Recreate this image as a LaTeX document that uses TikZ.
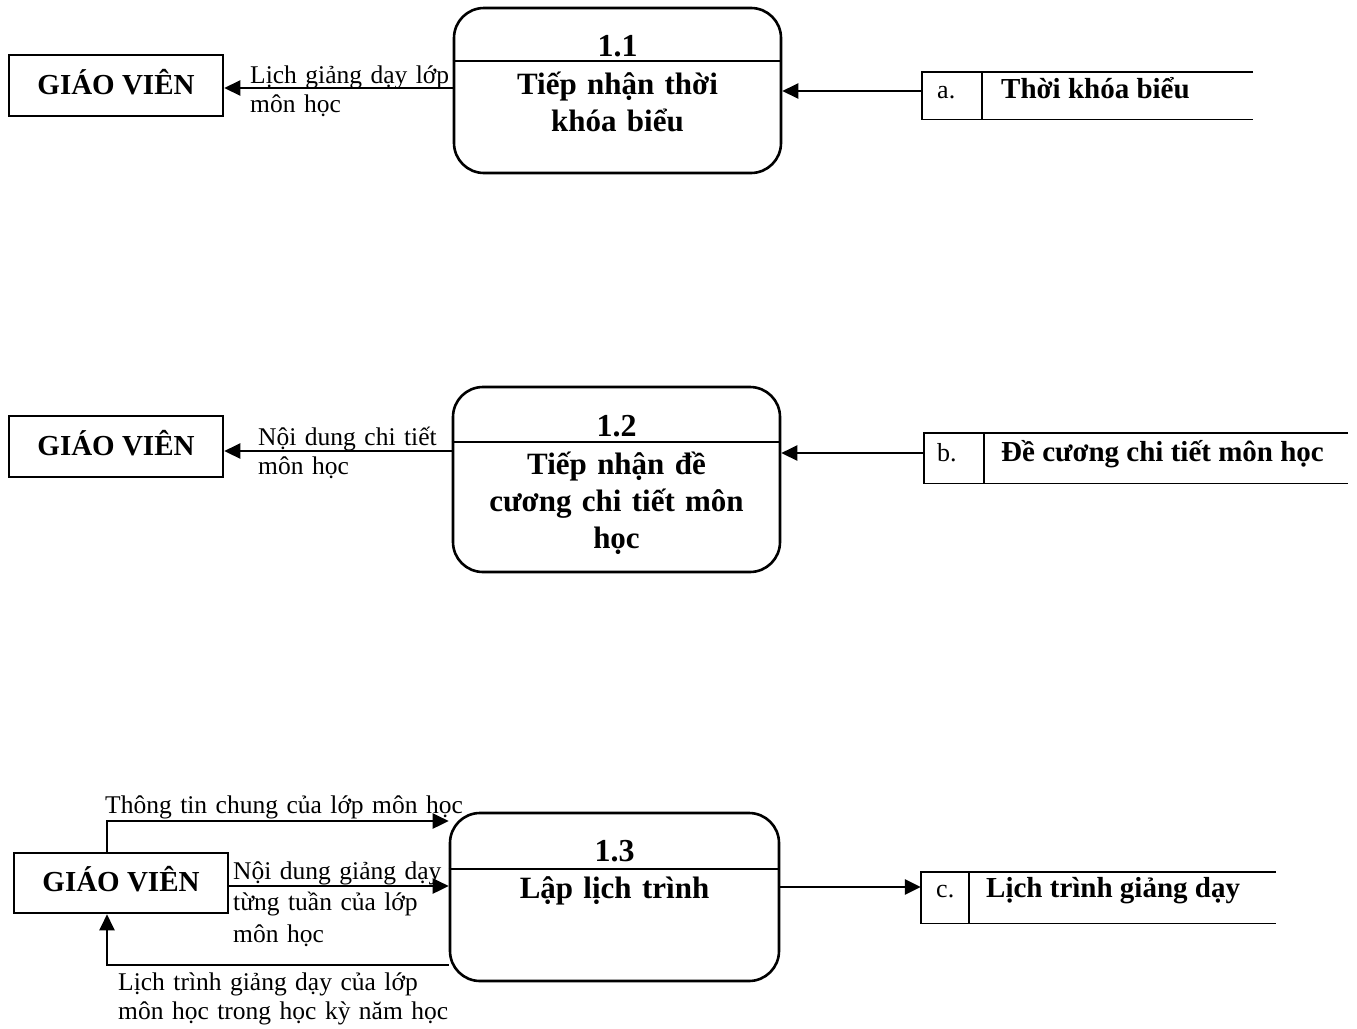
\documentclass[tikz,border=0pt]{standalone}
\usepackage{fontspec}
\setmainfont{Liberation Serif}
\usetikzlibrary{arrows.meta}

\begin{document}
\begin{tikzpicture}[x=1pt,y=-1pt,
  proc/.style={draw, line width=2.6pt, rounded corners=30pt, inner sep=0pt, minimum width=327pt},
  entity/.style={draw, line width=2.6pt, minimum width=214pt, minimum height=61pt, inner sep=0pt,
    text height=20pt, text depth=3pt, font=\fontsize{29}{35}\selectfont\bfseries},
  storebox/.style={inner sep=0pt},
  storeline/.style={line width=1.4pt},
  flow/.style={line width=2.6pt, -{Triangle[length=16pt,width=15pt]}},
  pnum/.style={font=\fontsize{32}{37}\selectfont\bfseries, anchor=base, inner sep=0pt},
  ptitle/.style={font=\fontsize{31}{37}\selectfont\bfseries, align=center, text width=320pt, anchor=base, inner sep=0pt},
  lbl/.style={font=\fontsize{25.5}{29}\selectfont, align=left, text width=420pt, anchor=base west, inner sep=0pt},
  skey/.style={font=\fontsize{26}{30}\selectfont, anchor=base west, inner sep=0pt},
  sname/.style={font=\fontsize{29}{35}\selectfont\bfseries, anchor=base west, inner sep=0pt},
]
\useasboundingbox (0,0) rectangle (1357,1028);

% ---------- process 1.1 ----------
\node[proc, minimum height=165pt] (p1) at (617.5,90.5) {};
\draw[line width=2pt] (p1.west |- 0,61) -- (p1.east |- 0,61);
\node[pnum] (p1n) at (617.5,56) {1.1};
\node[ptitle] (p1t) at (617.5,94) {Tiếp nhận thời\\khóa biểu};

\node[entity] (e1) at (116,85.5) {GIÁO VIÊN};

\node[storebox, minimum width=331pt, minimum height=47pt] (sa) at (1087.5,95.5) {};
\draw[storeline] (sa.north east) -- (sa.north west) -- (sa.south west) -- (sa.south east);
\draw[storeline] ([xshift=60pt]sa.north west) -- ([xshift=60pt]sa.south west);
\node[skey] (sak) at (937,98) {a.};
\node[sname] (san) at (1001,98) {Thời khóa biểu};

\draw[flow] (sa.west |- 0,91) -- (p1.east |- 0,91);
\draw[flow] (p1.west |- 0,88) -- (e1.east |- 0,88);
\node[lbl] (l1) at (250,83) {Lịch giảng dạy lớp\\môn học};

% ---------- process 1.2 ----------
\node[proc, minimum height=185pt] (p2) at (616.5,479.5) {};
\draw[line width=2pt] (p2.west |- 0,442) -- (p2.east |- 0,442);
\node[pnum] (p2n) at (616.5,436) {1.2};
\node[ptitle] (p2t) at (616.5,474) {Tiếp nhận đề\\cương chi tiết môn\\học};

\node[entity] (e2) at (116,446.5) {GIÁO VIÊN};

\node[storebox, minimum width=424pt, minimum height=50pt] (sb) at (1136,458) {};
\draw[storeline] (sb.north east) -- (sb.north west) -- (sb.south west) -- (sb.south east);
\draw[storeline] ([xshift=60pt]sb.north west) -- ([xshift=60pt]sb.south west);
\node[skey] (sbk) at (937,461) {b.};
\node[sname] (sbn) at (1001,461) {Đề cương chi tiết môn học};

\draw[flow] (sb.west |- 0,453) -- (p2.east |- 0,453);
\draw[flow] (p2.west |- 0,451) -- (e2.east |- 0,451);
\node[lbl] (l2) at (258,445) {Nội dung chi tiết\\môn học};

% ---------- process 1.3 ----------
\node[proc, minimum width=329pt, minimum height=168pt] (p3) at (614.5,897) {};
\draw[line width=2pt] (p3.west |- 0,869) -- (p3.east |- 0,869);
\node[pnum] (p3n) at (614.5,861) {1.3};
\node[ptitle] (p3t) at (614.5,898) {Lập lịch trình};

\node[entity, minimum height=60pt] (e3) at (121,883) {GIÁO VIÊN};

\node[storebox, minimum width=355pt, minimum height=51pt] (sc) at (1098.5,897.5) {};
\draw[storeline] (sc.north east) -- (sc.north west) -- (sc.south west) -- (sc.south east);
\draw[storeline] ([xshift=48pt]sc.north west) -- ([xshift=48pt]sc.south west);
\node[skey] (sck) at (936,897) {c.};
\node[sname] (scn) at (986,897) {Lịch trình giảng dạy};

\draw[flow] ([xshift=-14pt]e3.north) |- (p3.west |- 0,821);
\node[lbl] (l3) at (105,813) {Thông tin chung của lớp môn học};
\draw[flow] (e3.east |- 0,886) -- (p3.west |- 0,886);
\node[lbl, font=\fontsize{25.5}{31.5}\selectfont] (l4) at (233,879) {Nội dung giảng dạy\\từng tuần của lớp\\môn học};
\draw[flow] (p3.west |- 0,965) -| ([xshift=-14pt]e3.south);
\node[lbl] (l5) at (118,990) {Lịch trình giảng dạy của lớp\\môn học trong học kỳ năm học};
\draw[flow] (p3.east |- 0,887) -- (sc.west |- 0,887);
\end{tikzpicture}
\end{document}
